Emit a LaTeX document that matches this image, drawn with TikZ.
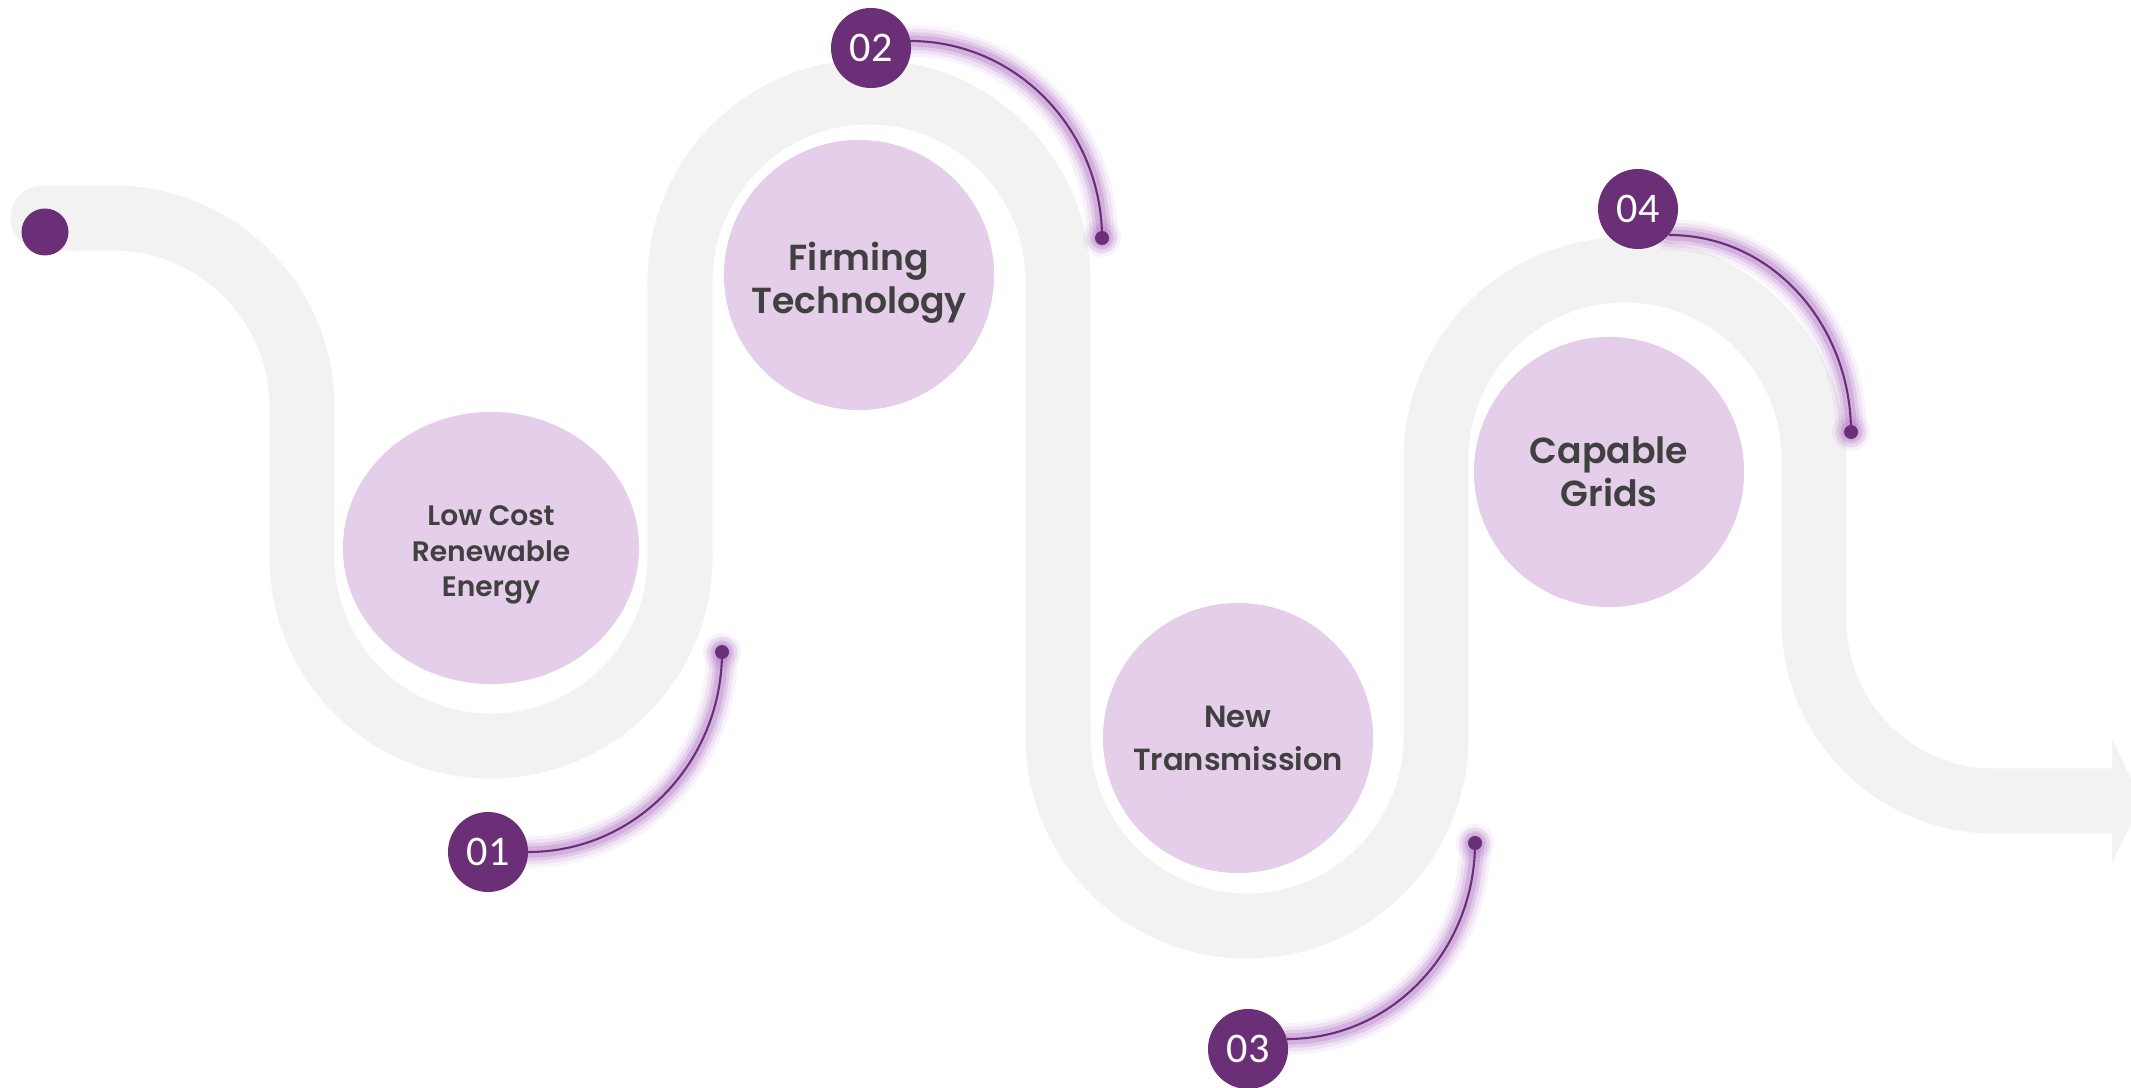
\documentclass[tikz,border=0pt]{standalone}
\usepackage{fontspec}
\setmainfont{Poppins}[BoldFont={* SemiBold}]
\newfontfamily\numfont{Carlito}
\usetikzlibrary{shapes.geometric}
\definecolor{road}{HTML}{F2F2F2}
\definecolor{plum}{HTML}{6B2F77}
\definecolor{lilac}{HTML}{E5CEEA}
\definecolor{ink}{HTML}{404040}
\definecolor{halo}{HTML}{A866BE}
\tikzstyle{topic}=[circle,fill=lilac,minimum size=2.7cm,inner sep=0pt]
\tikzstyle{txt}=[align=center,text=ink,font=\bfseries\fontsize{10.3}{12.2}\selectfont]
\tikzstyle{badge}=[circle,fill=plum,minimum size=.8cm,inner sep=0pt,text=white,font=\numfont\fontsize{12}{12}\selectfont]
\tikzstyle{pin}=[circle,fill=plum,minimum size=.14cm,inner sep=0pt]
\tikzstyle{lead}=[draw=plum,line width=.6pt]
\newcommand{\glow}[1]{\foreach \w/\o in {9/.08,7/.12,5/.18,3.2/.26}{\draw[halo,line width=\w pt,opacity=\o,line cap=round] #1;}}

\begin{document}
\begin{tikzpicture}[x=0.01cm,y=0.01cm]
\useasboundingbox (0,0) rectangle (2131,1087);
% winding road
\fill[road] (43,869) circle (32.5);
\draw[road,line width=.65cm] (43,869) -- (113,869) arc (90:0:189) -- (302,530) arc (180:360:189)
  -- (680,806) arc (180:0:189) -- (1058,350) arc (180:360:189) -- (1436,628) arc (180:0:189)
  -- (1814,466) arc (180:270:180) -- (2112,286);
\fill[road] (2112,348) -- (2142,286) -- (2112,224) -- cycle;
\fill[plum] (45,855) circle (23.5);

\node[topic,ellipse,minimum width=2.96cm,minimum height=2.72cm] (t1) at (491,539) {};
\node[topic] (t2) at (859,812) {};
\node[topic] (t3) at (1238,349) {};
\node[topic] (t4) at (1609,615) {};
\node[txt,font=\bfseries\fontsize{8}{10}\selectfont] (l1) at (491,532) {Low Cost\\Renewable\\Energy};
\node[txt] (l2) at (859,804) {Firming\\Technology};
\node[txt,font=\bfseries\fontsize{8.7}{12.2}\selectfont] (l3) at (1238,349) {New\\Transmission};
\node[txt] (l4) at (1609,615) {Capable\\Grids};

\coordinate (s1) at (528,235);
\coordinate (s2) at (910,1046);
\coordinate (s3) at (1287,48);
\coordinate (s4) at (1669,852);
\coordinate (d1) at (722,435);
\coordinate (d2) at (1102,849);
\coordinate (d3) at (1475,244);
\coordinate (d4) at (1851,655);

\glow{(s1) to[out=0,in=-90] (d1)}
\glow{(s2) to[out=0,in=90] (d2)}
\glow{(s3) to[out=0,in=-90] (d3)}
\glow{(s4) to[out=0,in=90] (d4)}
\foreach \d in {d1,d2,d3,d4}{\foreach \r/\o in {19/.08,15/.12,11/.18}{\fill[halo,opacity=\o] (\d) circle (\r);}}

\draw[lead] (s1) to[out=0,in=-90] (d1);
\draw[lead] (s2) to[out=0,in=90] (d2);
\draw[lead] (s3) to[out=0,in=-90] (d3);
\draw[lead] (s4) to[out=0,in=90] (d4);
\foreach \d in {d1,d2,d3,d4}{\node[pin] (p\d) at (\d) {};}

\node[badge] (b1) at (488,235) {01};
\node[badge] (b2) at (871,1039) {02};
\node[badge] (b3) at (1248,38) {03};
\node[badge] (b4) at (1638,878) {04};
\end{tikzpicture}
\end{document}
